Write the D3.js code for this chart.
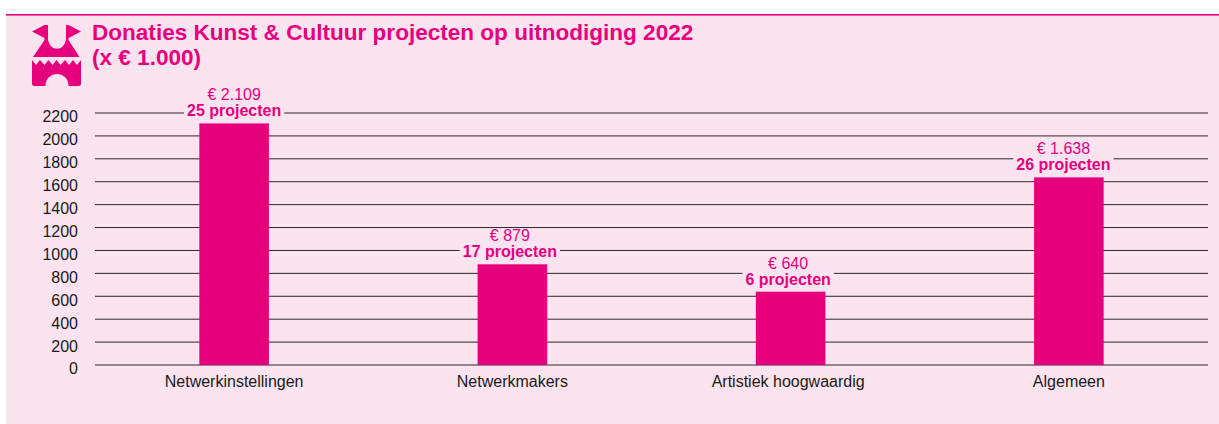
<!DOCTYPE html>
<html><head><meta charset="utf-8">
<script src="https://cdnjs.cloudflare.com/ajax/libs/d3/7.8.5/d3.min.js"></script>
<style>html,body{margin:0;padding:0;background:#fff}svg{display:block}text{font-family:"Liberation Sans",Arial,sans-serif}</style>
</head><body><svg id="c" width="1219" height="424"></svg>
<script>
const categories=["Netwerkinstellingen","Netwerkmakers","Artistiek hoogwaardig","Algemeen"];
const values=[2109,879,640,1638];
const amountLabels=["€ 2.109","€ 879","€ 640","€ 1.638"];
const projectLabels=["25 projecten","17 projecten","6 projecten","26 projecten"];
const yTicks=[0,200,400,600,800,1000,1200,1400,1600,1800,2000,2200];
const titleLines=["Donaties Kunst & Cultuur projecten op uitnodiging 2022","(x € 1.000)"];
const pink="#e6007e",bg="#fbe3f0";
const labelShift=[0,-2.5,-2.5,-5.5];
const categoryShift=[0,0,-2.5,0];
const svg=d3.select("#c");
svg.append("rect").attr("x",6).attr("y",14).attr("width",1213).attr("height",410).attr("fill",bg);
svg.append("rect").attr("x",6).attr("y",14).attr("width",1213).attr("height",1.6).attr("fill",pink);
// icon
svg.append("path").attr("fill",pink).attr("d","M32 60 L36 65 L40 60 L44.5 65 L48.5 60 L52.5 65 L56.5 60 L60.5 65 L65 60 L69 65 L73 60 L77 65 L81 60 L81 83.5 Q81 86 78.5 86 L68.5 86 L68.5 85.5 A11.5 11.5 0 0 0 45.5 85.5 L45.5 86 L34.5 86 Q32 86 32 83.5 Z");
svg.append("path").attr("fill",pink).attr("d","M32 31.5 L44.5 25 L48 25 L48 39 C49.5 52 64.5 52 66 39 L66 25 L68.5 25 L81 31.5 L68.5 38 L68.5 40 L79.5 57 L33 57 L44.5 40 L44.5 38 Z");
svg.selectAll("text.t").data(titleLines).join("text").attr("class","t")
 .attr("x",92).attr("y",(d,i)=>40+i*24.5).attr("fill",pink).attr("font-weight","bold").attr("font-size",22.55).text(d=>d);
const x=d3.scaleBand().domain(categories).range([95,1208]).paddingInner(0.75).paddingOuter(0.375);
const y=d3.scaleLinear().domain([0,2200]).range([365,113]);
const ax=svg.append("g").attr("transform","translate(95,0)").call(d3.axisLeft(y).tickValues(yTicks).tickSize(0).tickPadding(17).tickFormat(d3.format("d")));
ax.select(".domain").remove();
ax.selectAll("text").attr("font-size",16).attr("fill","#1a1a1a").attr("font-family",'"Liberation Sans",Arial,sans-serif').attr("dy","0.62em").attr("transform","translate(0,-1)");
svg.append("g").selectAll("line").data(yTicks).join("line").attr("x1",95).attr("x2",1208)
 .attr("y1",d=>y(d)).attr("y2",d=>y(d)).attr("stroke","#2e2529").attr("stroke-width",1);
svg.append("g").selectAll("rect").data(values).join("rect")
 .attr("x",(d,i)=>x(categories[i])).attr("width",x.bandwidth()).attr("y",d=>y(d)).attr("height",d=>y(0)-y(d)).attr("fill",pink);
const xa=svg.append("g").attr("transform","translate(0,365)").call(d3.axisBottom(x).tickSize(0).tickPadding(11));
xa.select(".domain").remove();
xa.selectAll("text").attr("font-size",16).attr("fill","#1a1a1a").attr("font-family",'"Liberation Sans",Arial,sans-serif').attr("dx",(d,i)=>categoryShift[i]);
const lab=svg.append("g").selectAll("g").data(values).join("g")
 .attr("transform",(d,i)=>`translate(${x(categories[i])+x.bandwidth()/2+labelShift[i]},${y(d)})`);
const knock=lab.append("rect").attr("y",-20).attr("height",17).attr("fill",bg);
lab.append("text").attr("text-anchor","middle").attr("y",-23).attr("font-size",16).attr("fill",pink).text((d,i)=>amountLabels[i]);
const pl=lab.append("text").attr("text-anchor","middle").attr("y",-7).attr("font-size",16).attr("font-weight","bold").attr("fill",pink).text((d,i)=>projectLabels[i]);
pl.each(function(d,i){const w=this.getComputedTextLength()+6;d3.select(knock.nodes()[i]).attr("x",-w/2).attr("width",w);});
</script></body></html>
